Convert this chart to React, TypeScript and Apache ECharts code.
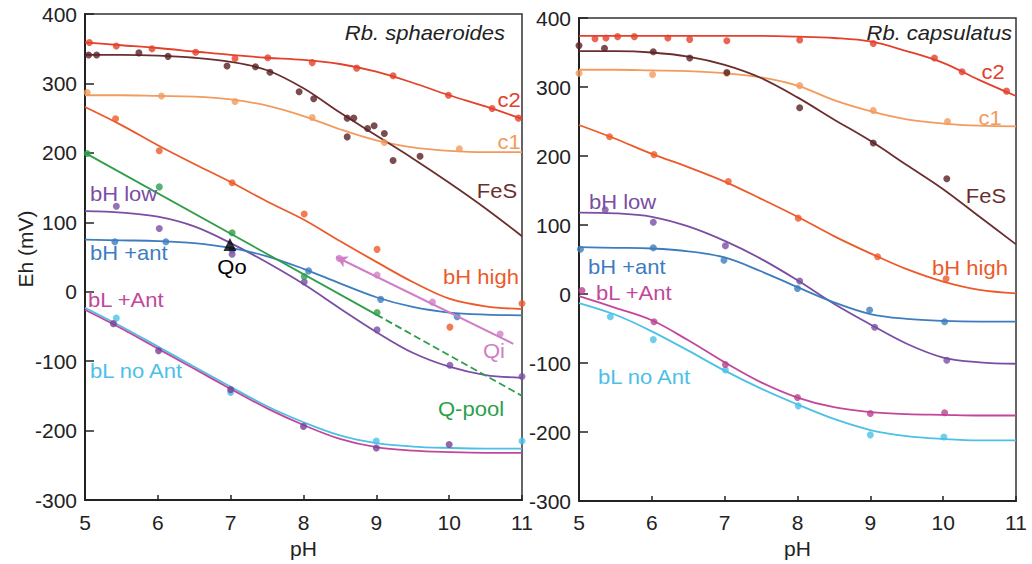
import React, { useEffect, useRef } from "react";
import * as echarts from "echarts";

// ---------- data ----------
const phGrid = [5, 5.5, 6, 6.5, 7, 7.5, 8, 8.5, 9, 9.5, 10, 10.5, 11];

// Rb. sphaeroides – fitted curves (Eh in mV at phGrid)
const sphC2Fit = [359, 355, 351, 346, 341, 337, 334, 328, 317, 301, 283, 267, 249];
const sphC1Fit = [283, 283, 282, 281, 277, 268, 253, 234, 218, 208, 203, 201, 201];
const sphFeSFit = [341, 341, 340, 337, 331, 319, 293, 258, 225, 192, 157, 120, 80];
const sphBHHighFit = [266, 240, 211, 184, 158, 130, 104, 73, 43, 14, -10, -21, -25];
const sphBHLowFit = [116, 114, 108, 94, 70, 42, 11, -24, -58, -88, -108, -120, -124];
const sphBHAntFit = [75, 74, 73, 70, 63, 51, 33, 12, -8, -22, -30, -33, -34];
const sphBLAntFit = [-26, -53, -82, -111, -140, -168, -192, -212, -224, -229, -231, -232, -232];
const sphBLNoAntFit = [-23, -50, -79, -108, -137, -165, -188, -207, -218, -223, -225, -226, -226];
const sphQPoolSolid = [[5, 200], [9, -33]];
const sphQPoolDashed = [[9, -33], [11, -150]];
const sphQiLine = [[8.45, 50], [10.88, -75]];

// Rb. sphaeroides – measured points [pH, Eh]
const sphC2Pts = [[5.06, 359], [5.43, 354], [5.92, 350], [6.52, 345], [7.06, 336], [7.51, 337], [8.12, 330], [8.73, 322], [9.23, 311], [9.99, 283], [10.59, 264], [10.95, 250]];
const sphC1Pts = [[5.03, 287], [6.05, 282], [7.06, 274], [8.12, 251], [9.11, 215], [10.14, 206]];
const sphFeSPts = [[5.05, 341], [5.16, 341], [5.74, 344], [6.14, 339], [6.95, 325], [7.34, 324], [7.54, 316], [7.94, 288], [8.14, 278], [8.6, 250], [8.69, 250], [8.6, 223], [8.88, 235], [8.97, 239], [9.11, 228], [9.23, 189], [9.6, 195]];
const sphBHHighPts = [[5.42, 249], [6.02, 203], [7.02, 157], [8.01, 112], [9.01, 61], [10.01, -51], [11.0, -17]];
const sphBHLowPts = [[5.43, 123], [6.02, 91], [7.02, 54], [8.01, 14], [9.01, -55], [10.01, -106], [11.0, -122]];
const sphBHAntPts = [[5.41, 72], [6.11, 72], [7.02, 60], [8.07, 30], [9.06, -11], [10.11, -36]];
const sphQPoolPts = [[5.03, 199], [6.02, 151], [7.02, 85], [8.01, 22], [9.01, -30]];
const sphQiPts = [[8.49, 48], [9.01, 24], [9.77, -15], [10.7, -61]];
const sphQoPts = [[6.99, 68]];
const sphBLAntPts = [[5.39, -46], [6.01, -85], [7.0, -141], [8.0, -194], [9.0, -225], [10.0, -220]];
const sphBLNoAntPts = [[5.43, -38], [7.0, -145], [9.0, -215], [11.0, -215]];

// Rb. capsulatus – fitted curves
const capC2Fit = [374, 374, 374, 374, 374, 374, 373, 371, 366, 352, 335, 310, 287];
const capC1Fit = [325, 325, 324, 323, 320, 314, 302, 281, 265, 253, 247, 244, 243];
const capFeSFit = [352, 352, 350, 344, 332, 313, 285, 253, 222, 187, 152, 112, 72];
const capBHHighFit = [245, 225, 203, 184, 163, 138, 112, 84, 59, 36, 18, 6, 1];
const capBHLowFit = [118, 117, 112, 98, 77, 51, 20, -14, -44, -72, -92, -99, -101];
const capBHAntFit = [68, 67, 66, 62, 53, 33, 10, -12, -29, -36, -39, -40, -40];
const capBLAntFit = [-3, -20, -38, -67, -99, -128, -150, -164, -171, -174, -175, -176, -176];
const capBLNoAntFit = [-13, -30, -54, -82, -111, -137, -160, -181, -197, -206, -210, -212, -212];

// Rb. capsulatus – measured points
const capC2Pts = [[5.22, 370], [5.37, 371], [5.53, 373], [5.76, 373], [6.22, 371], [6.52, 369], [7.03, 367], [8.03, 368], [9.04, 363], [9.88, 342], [10.26, 322], [10.87, 294]];
const capC1Pts = [[5.0, 320], [6.01, 318], [7.03, 320], [8.03, 302], [9.04, 266], [10.06, 250]];
const capFeSPts = [[5.0, 360], [5.35, 356], [6.02, 351], [6.52, 342], [7.03, 321], [8.03, 270], [9.04, 219], [10.05, 167]];
const capBHHighPts = [[5.42, 228], [6.03, 202], [7.05, 163], [8.01, 110], [9.1, 54], [10.04, 22]];
const capBHLowPts = [[5.36, 122], [6.02, 104], [7.01, 70], [8.03, 19], [9.06, -48], [10.05, -96]];
const capBHAntPts = [[5.02, 65], [6.02, 67], [6.99, 49], [8.0, 8], [8.99, -23], [10.02, -40]];
const capBLAntPts = [[5.04, 5], [6.03, -40], [7.01, -102], [8.0, -150], [9.0, -173], [10.02, -172]];
const capBLNoAntPts = [[5.43, -33], [6.02, -66], [7.01, -110], [8.01, -162], [9.0, -204], [10.01, -207]];

// ---------- styles ----------
const FONT = "'Liberation Sans', Arial, Helvetica, sans-serif";
const COL = {
  c2: "#e4402b",
  c1: "#f39b5d",
  fes: "#6b2e2e",
  fesPt: "#5a2026",
  bhHigh: "#ec5a2a",
  bhLow: "#7a4ea3",
  bhAnt: "#3d7dbf",
  blAnt: "#c2479b",
  blAntPtL: "#7b3f93",
  blAntPtR: "#b8438f",
  blNo: "#4cc0e6",
  qpool: "#2e9e4a",
  qi: "#cf7fc6",
  axis: "#222222",
};

function curve(fit: number[], color: string, ax: number, extra: any = {}) {
  return {
    type: "line",
    xAxisIndex: ax,
    yAxisIndex: ax,
    data: phGrid.map((p, i) => [p, fit[i]]),
    smooth: 0.35,
    symbol: "none",
    showSymbol: false,
    silent: true,
    lineStyle: { color, width: 1.8 },
    z: 2,
    ...extra,
  };
}

function seg(data: number[][], color: string, ax: number, type = "solid") {
  return {
    type: "line",
    xAxisIndex: ax,
    yAxisIndex: ax,
    data,
    symbol: "none",
    silent: true,
    lineStyle: { color, width: 1.8, type },
    z: 2,
  };
}

function pts(data: number[][], color: string, ax: number, extra: any = {}) {
  return {
    type: "scatter",
    xAxisIndex: ax,
    yAxisIndex: ax,
    data,
    symbolSize: 7,
    silent: true,
    itemStyle: { color },
    z: 3,
    ...extra,
  };
}

function label(text: string, x: number, y: number, fill: string, align = "center", italic = false) {
  return {
    type: "text",
    x,
    y,
    scaleX: 1.1,
    z: 10,
    silent: true,
    style: {
      text,
      fill,
      fontSize: 20,
      fontFamily: FONT,
      fontStyle: italic ? "italic" : "normal",
      textAlign: align,
      align,
      textVerticalAlign: "middle",
      verticalAlign: "middle",
    },
  };
}

function xAxis(grid: number, margin: number, nameGap: number) {
  return {
    type: "value",
    gridIndex: grid,
    min: 5,
    max: 11,
    interval: 1,
    name: "pH",
    nameLocation: "middle",
    nameGap,
    nameTextStyle: { fontSize: 21, color: COL.axis, fontFamily: FONT },
    axisLine: { show: true, onZero: false, lineStyle: { color: COL.axis, width: 2 } },
    axisTick: { show: true, inside: true, length: 5, lineStyle: { color: COL.axis, width: 1.5 } },
    axisLabel: { fontSize: 21, color: COL.axis, fontFamily: FONT, margin },
    splitLine: { show: false },
  };
}

function yAxis(grid: number) {
  return {
    type: "value",
    gridIndex: grid,
    min: -300,
    max: 400,
    interval: 100,
    axisLine: { show: true, onZero: false, lineStyle: { color: COL.axis, width: 2 } },
    axisTick: { show: true, inside: true, length: 9, lineStyle: { color: COL.axis, width: 1.5 } },
    axisLabel: { fontSize: 21, color: COL.axis, fontFamily: FONT, margin: 8 },
    splitLine: { show: false },
  };
}

export default function App() {
  const ref = useRef<HTMLDivElement>(null);
  useEffect(() => {
    if (!ref.current) return;
    const chart = echarts.init(ref.current, null, { renderer: "svg" });
    const option: any = {
      animation: false,
      backgroundColor: "#ffffff",
      grid: [
        { left: 85, right: 510, top: 14, bottom: 64, show: true, borderColor: "#333", borderWidth: 1.5, backgroundColor: "transparent" },
        { left: 579, right: 16, top: 18, bottom: 58, show: true, borderColor: "#333", borderWidth: 1.5, backgroundColor: "transparent" },
      ],
      xAxis: [xAxis(0, 12, 36), xAxis(1, 11, 32)],
      yAxis: [yAxis(0), yAxis(1)],
      series: [
        // Rb. sphaeroides
        curve(sphC2Fit, COL.c2, 0),
        curve(sphC1Fit, COL.c1, 0),
        curve(sphFeSFit, COL.fes, 0),
        curve(sphBHHighFit, COL.bhHigh, 0),
        curve(sphBHLowFit, COL.bhLow, 0),
        curve(sphBHAntFit, COL.bhAnt, 0),
        curve(sphBLNoAntFit, COL.blNo, 0),
        curve(sphBLAntFit, COL.blAnt, 0),
        seg(sphQPoolSolid, COL.qpool, 0),
        seg(sphQPoolDashed, COL.qpool, 0, "dashed"),
        pts(sphC2Pts, COL.c2, 0),
        pts(sphC1Pts, COL.c1, 0),
        pts(sphFeSPts, COL.fesPt, 0),
        pts(sphBHHighPts, COL.bhHigh, 0),
        pts(sphBHAntPts, COL.bhAnt, 0),
        pts(sphBHLowPts, COL.bhLow, 0),
        pts(sphQPoolPts, COL.qpool, 0),
        pts(sphBLNoAntPts, COL.blNo, 0),
        pts(sphBLAntPts, COL.blAntPtL, 0),
        pts(sphQiPts, COL.qi, 0, {
          markLine: {
            silent: true,
            symbol: ["none", "arrow"],
            symbolSize: [9, 11],
            label: { show: false },
            lineStyle: { color: COL.qi, width: 2, type: "solid" },
            data: [[{ coord: sphQiLine[1] }, { coord: sphQiLine[0] }]],
          },
        }),
        pts(sphQoPts, "#000000", 0, { symbol: "triangle", symbolSize: 13, z: 4 }),
        // Rb. capsulatus
        curve(capC2Fit, COL.c2, 1),
        curve(capC1Fit, COL.c1, 1),
        curve(capFeSFit, COL.fes, 1),
        curve(capBHHighFit, COL.bhHigh, 1),
        curve(capBHLowFit, COL.bhLow, 1),
        curve(capBHAntFit, COL.bhAnt, 1),
        curve(capBLNoAntFit, COL.blNo, 1),
        curve(capBLAntFit, COL.blAnt, 1),
        pts(capC2Pts, COL.c2, 1),
        pts(capC1Pts, COL.c1, 1),
        pts(capFeSPts, COL.fesPt, 1),
        pts(capBHHighPts, COL.bhHigh, 1),
        pts(capBHLowPts, COL.bhLow, 1),
        pts(capBHAntPts, COL.bhAnt, 1),
        pts(capBLNoAntPts, COL.blNo, 1),
        pts(capBLAntPts, COL.blAntPtR, 1),
      ],
      graphic: [
        {
          type: "text",
          x: 25,
          y: 249,
          rotation: Math.PI / 2,
          silent: true,
          style: {
            text: "Eh (mV)",
            fill: COL.axis,
            fontSize: 21,
            fontFamily: FONT,
            textAlign: "center",
            align: "center",
            textVerticalAlign: "middle",
            verticalAlign: "middle",
          },
        },
        label("Rb. sphaeroides", 505, 33, COL.axis, "right", true),
        label("c2", 509, 100, COL.c2),
        label("c1", 509, 142, COL.c1),
        label("FeS", 497, 191, COL.fes),
        label("bH high", 481, 277, COL.bhHigh),
        label("Qi", 494, 351, COL.qi),
        label("Q-pool", 471, 409, COL.qpool),
        label("bH low", 90, 194, COL.bhLow, "left"),
        label("bH +ant", 90, 253, COL.bhAnt, "left"),
        label("Qo", 232, 267, "#000000"),
        label("bL +Ant", 88, 300, COL.blAnt, "left"),
        label("bL no Ant", 90, 371, COL.blNo, "left"),
        label("Rb. capsulatus", 1012, 33, COL.axis, "right", true),
        label("c2", 993, 72, COL.c2),
        label("c1", 990, 118, COL.c1),
        label("FeS", 986, 196, COL.fes),
        label("bH high", 970, 268, COL.bhHigh),
        label("bH low", 589, 202, COL.bhLow, "left"),
        label("bH +ant", 588, 267, COL.bhAnt, "left"),
        label("bL +Ant", 596, 293, COL.blAnt, "left"),
        label("bL no Ant", 598, 377, COL.blNo, "left"),
      ],
    };
    chart.setOption(option);
    return () => chart.dispose();
  }, []);
  return (
    <div
      ref={ref}
      style={{ position: "fixed", left: 0, top: 0, width: 1032, height: 564, background: "#fff" }}
    />
  );
}
